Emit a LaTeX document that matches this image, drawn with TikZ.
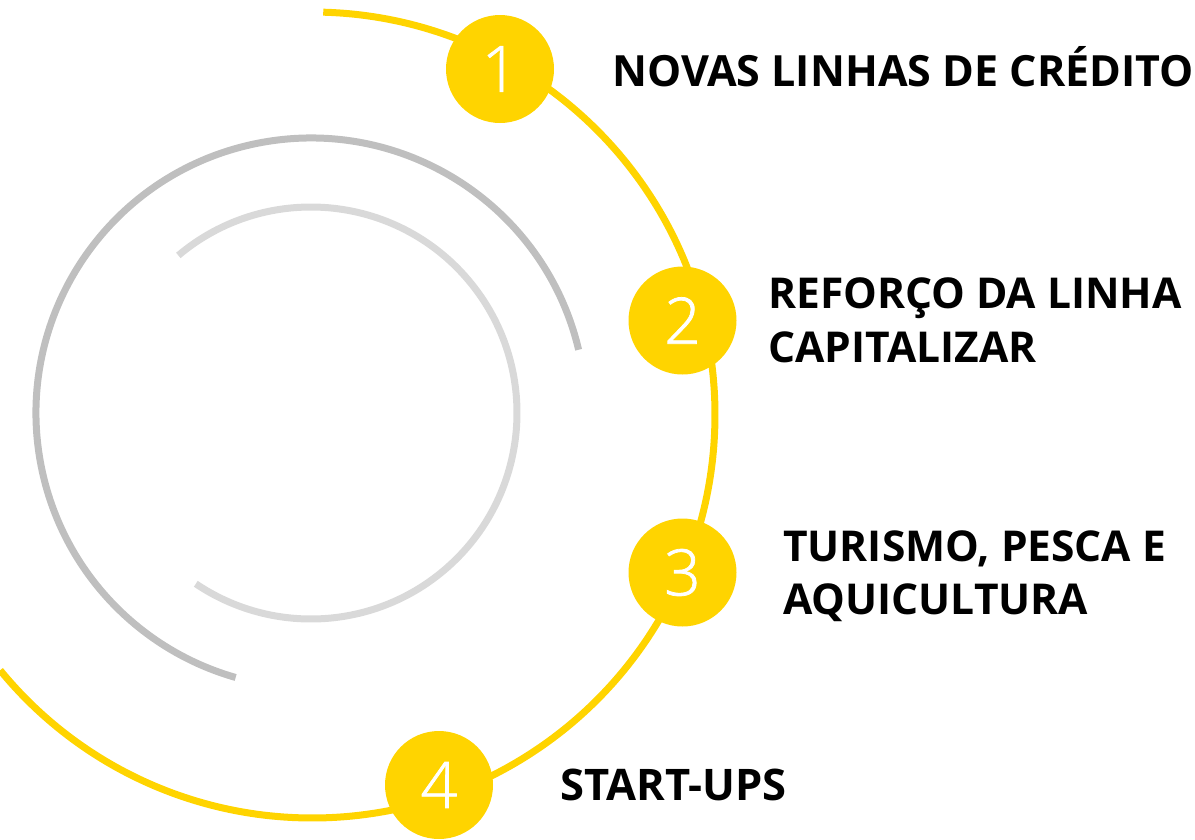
\documentclass[tikz,border=0pt]{standalone}
\usepackage{fontspec}
\setmainfont{Open Sans}
\newfontfamily\numfont{Open Sans Light}[FakeBold=1.2]
\definecolor{ylw}{RGB}{255,212,0}
\definecolor{gmid}{RGB}{191,191,191}
\definecolor{glight}{RGB}{217,217,217}
\begin{document}
\begin{tikzpicture}[x=1pt,y=-1pt,
  numcirc/.style={circle, fill=ylw, minimum size=108pt, inner sep=0pt, text=white, font=\numfont\fontsize{64}{64}\selectfont},
  lbl/.style={inner sep=0pt, align=left, font=\bfseries\fontsize{42.5}{54}\selectfont},
  ring/.style={line width=7pt}]
\useasboundingbox (0,0) rectangle (1195,839);
\coordinate (cy) at (312,415);
\coordinate (cg) at (311,413);
\draw[ring, ylw] (cy) ++(88.4:403pt) arc[start angle=88.4, end angle=-140.7, radius=403pt];
\draw[ring, gmid] (cg) ++(13.3:275pt) arc[start angle=13.3, end angle=254.1, radius=275pt];
\draw[ring, glight] (cg) ++(130.1:206pt) arc[start angle=130.1, end angle=-124, radius=206pt];
\node[numcirc] (n1) at (500,69) {1};
\node[numcirc] (n2) at (682.5,320.5) {2};
\node[numcirc] (n3) at (682.5,572.5) {3};
\node[numcirc] (n4) at (439,785) {4};
\node[lbl, anchor=base west, font=\bfseries\fontsize{43}{54}\selectfont] (t1) at (612,86) {NOVAS LINHAS DE CRÉDITO};
\node[lbl, anchor=west] (t2) at (768,320) {REFORÇO DA LINHA\\CAPITALIZAR};
\node[lbl, anchor=west, font=\bfseries\fontsize{42.5}{53}\selectfont] (t3) at (783,576) {TURISMO, PESCA E\\AQUICULTURA};
\node[lbl, anchor=base west, font=\bfseries\fontsize{43.5}{54}\selectfont] (t4) at (560,800) {START-UPS};
\end{tikzpicture}
\end{document}
